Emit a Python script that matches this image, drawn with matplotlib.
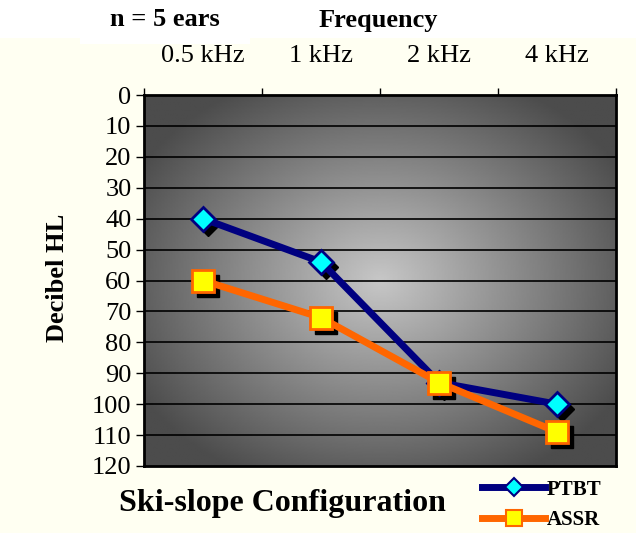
import numpy as np
import matplotlib
matplotlib.use("Agg")
from matplotlib import pyplot as plt
from matplotlib.patches import Rectangle
from matplotlib.lines import Line2D
import matplotlib.transforms as mtransforms

freqs = ["0.5 kHz", "1 kHz", "2 kHz", "4 kHz"]
ptbt = [40, 54, 93, 100]
assr = [60, 72, 93, 109]
y_ticks = list(range(0, 121, 10))

plt.rcParams["font.family"] = ["Liberation Serif", "DejaVu Serif"]

fig = plt.figure(figsize=(6.36, 5.33), dpi=100)
fig.patch.set_facecolor("#FFFFF2")
# white band at the top
fig.patches.append(Rectangle((0, 1 - 38 / 533), 1, 38 / 533, transform=fig.transFigure,
                             facecolor="white", edgecolor="none", zorder=-10))
fig.patches.append(Rectangle((80 / 636, 1 - 44 / 533), 170 / 636, 44 / 533, transform=fig.transFigure,
                             facecolor="white", edgecolor="none", zorder=-10))

ax = fig.add_axes([144 / 636, 1 - 466 / 533, 472 / 636, 371 / 533])

# radial grey gradient background
gx, gy = np.meshgrid(np.linspace(0, 1, 300), np.linspace(0, 1, 300))
r = np.sqrt(((gx - 0.5) / 0.62) ** 2 + ((gy - 0.5) / 0.62) ** 2)
shade = np.clip(0.78 - 0.5 * r, 0.3, 0.8)
ax.imshow(shade, extent=[0, 1, 0, 1], transform=ax.transAxes, cmap="gray",
          vmin=0, vmax=1, aspect="auto", zorder=0, interpolation="bilinear")

x = np.arange(len(freqs))
ax.set_xlim(-0.5, len(freqs) - 0.5)
ax.set_ylim(120, 0)

for yv in y_ticks[1:-1]:
    ax.axhline(yv, color="black", lw=1.2, zorder=1)

shadow = mtransforms.offset_copy(ax.transData, fig=fig, x=5, y=-5, units="dots")
ax.plot(x, ptbt, ls="none", marker="D", ms=12, color="black", transform=shadow, zorder=2)
ax.plot(x, assr, ls="none", marker="s", ms=16, color="black", transform=shadow, zorder=2)

ax.plot(x, ptbt, color="#000080", lw=5, marker="D", ms=12, mfc="#00FFFF",
        mec="#000080", mew=2, zorder=3, label="PTBT")
ax.plot(x, assr, color="#FF6600", lw=5, marker="s", ms=16, mfc="#FFFF00",
        mec="#FF6600", mew=2, zorder=4, label="ASSR")

ax.xaxis.tick_top()
ax.set_xticks(np.arange(-0.5, len(freqs), 1.0))
ax.set_xticklabels([])
ax.set_xticks(x, minor=True)
ax.set_xticklabels(freqs, minor=True)
ax.tick_params(axis="x", which="major", direction="out", length=5, width=1)
ax.tick_params(axis="x", which="minor", length=0, pad=20, labelsize=19)
ax.set_yticks(y_ticks)
ax.tick_params(axis="y", direction="out", length=6, width=1, pad=3, labelsize=19)

for s in ax.spines.values():
    s.set_linewidth(2)
    s.set_color("black")

fig.text(58 / 636, 1 - 278 / 533, "Decibel HL", rotation=90, ha="center", va="center",
         fontsize=19, fontweight="bold")
fig.text(165 / 636, 1 - 20 / 533, "n = 5 ears", ha="center", va="center",
         fontsize=19, fontweight="bold")
fig.text(378 / 636, 1 - 20 / 533, "Frequency", ha="center", va="center",
         fontsize=19, fontweight="bold")
fig.text(282 / 636, 1 - 503 / 533, "Ski-slope Configuration", ha="center", va="center",
         fontsize=23, fontweight="bold")

handles = [
    Line2D([], [], color="#000080", lw=5, marker="D", ms=9, mfc="#00FFFF", mec="#000080", mew=1.5),
    Line2D([], [], color="#FF6600", lw=5, marker="s", ms=11, mfc="#FFFF00", mec="#FF6600", mew=1.5),
]
leg = fig.legend(handles, ["PTBT", "ASSR"], loc="center", bbox_to_anchor=(542 / 636, 1 - 505 / 533),
                 frameon=False, handlelength=3.0, handletextpad=0.1, labelspacing=0.5,
                 prop={"size": 15, "weight": "bold"})

fig.savefig("out.png", dpi=100, facecolor=fig.get_facecolor())
